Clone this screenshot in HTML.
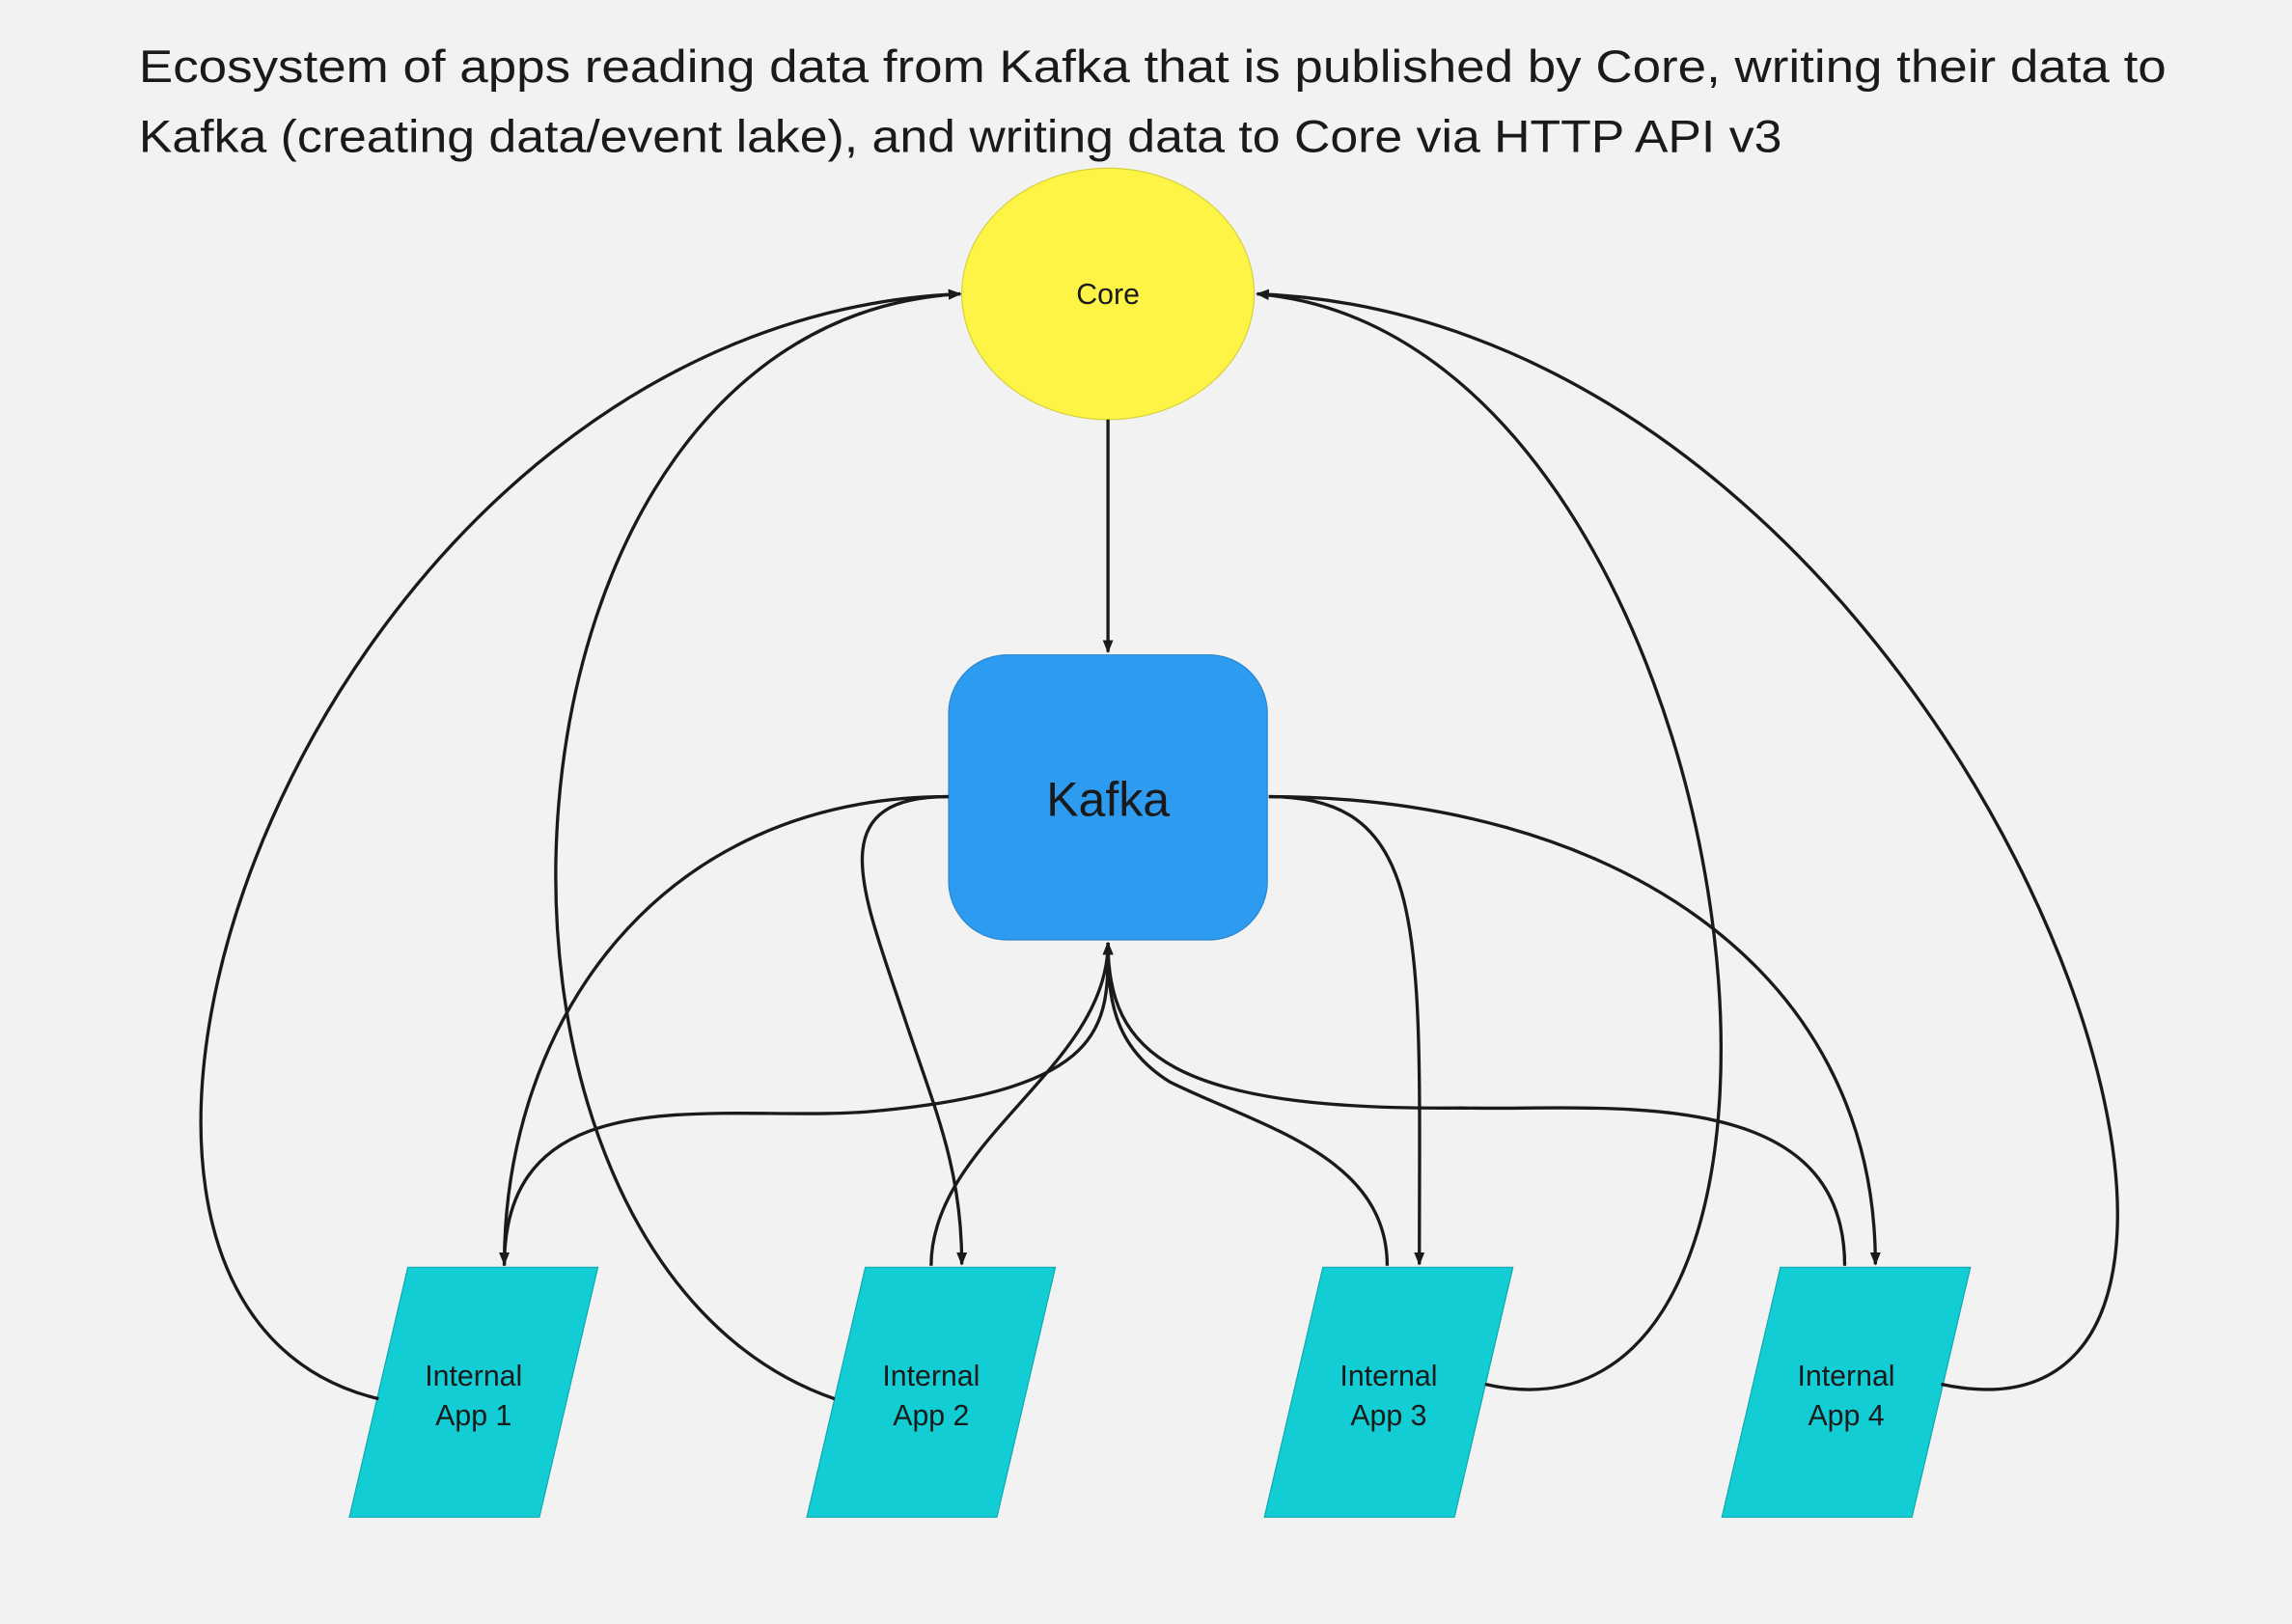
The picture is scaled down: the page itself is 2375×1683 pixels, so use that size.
<!DOCTYPE html>
<html><head><meta charset="utf-8"><style>
html,body{margin:0;padding:0;background:#f2f2f2;}
svg{display:block;}
</style></head><body>
<svg width="2375" height="1683" viewBox="0 0 1568 1111" xmlns="http://www.w3.org/2000/svg" font-family="'Liberation Sans', sans-serif">
<defs>
<marker id="a" viewBox="0 0 10 10" refX="9" refY="5" markerWidth="9" markerHeight="9" orient="auto-start-reverse" markerUnits="userSpaceOnUse">
<path d="M0,1 L10,5 L0,9 z" fill="#1a1a1a"/></marker>
</defs>
<rect width="1568" height="1111" fill="#f2f2f2"/>
<text x="95" y="56" font-size="31" fill="#1a1a1a" textLength="1387" lengthAdjust="spacingAndGlyphs">Ecosystem of apps reading data from Kafka that is published by Core, writing their data to</text>
<text x="95" y="104" font-size="31" fill="#1a1a1a" textLength="1124" lengthAdjust="spacingAndGlyphs">Kafka (creating data/event lake), and writing data to Core via HTTP API v3</text>

<ellipse cx="758" cy="201" rx="100" ry="86" fill="#fef445" stroke="#d8d040" stroke-width="0.8"/>
<text x="758" y="208" font-size="20" text-anchor="middle" fill="#1a1a1a">Core</text>
<rect x="649" y="448" width="218" height="195" rx="40" fill="#2d9bf0" stroke="#2a86d0" stroke-width="0.8"/>
<text x="758" y="558" font-size="33" text-anchor="middle" fill="#1a1a1a">Kafka</text>

<g fill="#12cdd4" stroke="#10aab0" stroke-width="0.8">
<polygon points="279,867 409,867 369,1038 239,1038"/>
<polygon points="592,867 722,867 682,1038 552,1038"/>
<polygon points="905,867 1035,867 995,1038 865,1038"/>
<polygon points="1218,867 1348,867 1308,1038 1178,1038"/>
</g>
<g font-size="20" text-anchor="middle" fill="#1a1a1a">
<text x="324" y="948">Internal</text><text x="324" y="975">App 1</text>
<text x="637" y="948">Internal</text><text x="637" y="975">App 2</text>
<text x="950" y="948">Internal</text><text x="950" y="975">App 3</text>
<text x="1263" y="948">Internal</text><text x="1263" y="975">App 4</text>
</g>

<g fill="none" stroke="#1a1a1a" stroke-width="2.2" marker-end="url(#a)">
<path d="M758,287 L758,446"/>
<path d="M259,957 C-20,890 210,220 657,201"/>
<path d="M571,957 C290,860 320,220 657,201"/>
<path d="M1016,947 C1290,1010 1200,230 860,201"/>
<path d="M1328,947 C1620,1010 1350,220 860,201"/>
<path d="M649,545 C450,545 345,700 345,865"/>
<path d="M649,545 C560,545 590,610 620,700 C640,760 658,800 658,865"/>
<path d="M868,545 C980,545 971,640 971,865"/>
<path d="M868,545 C1100,545 1283,660 1283,865"/>
<path d="M345,866 C345,730 500,770 600,760 C760,745 758,700 758,645"/>
<path d="M637,866 C637,780 758,730 758,645"/>
<path d="M949,866 C949,790 860,770 800,740 C760,715 758,680 758,645"/>
<path d="M1262,866 C1262,740 1100,760 1000,758 C800,760 758,720 758,645"/>
</g>
</svg>
</body></html>
